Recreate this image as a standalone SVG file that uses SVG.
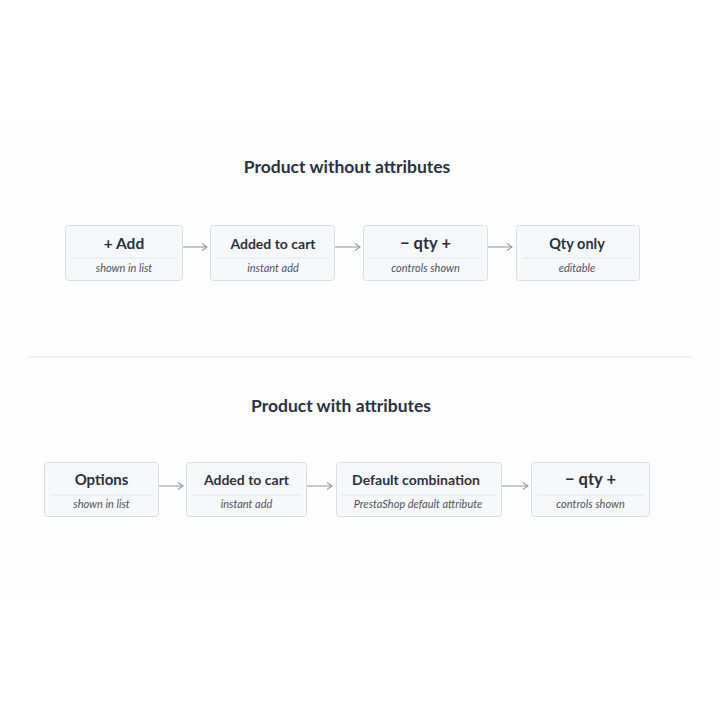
<svg xmlns="http://www.w3.org/2000/svg" width="720" height="720" viewBox="0 0 720 720">
<defs>
<style>
.box{fill:#f7f8f9;stroke:#dadde2;stroke-width:1}
.div{stroke:#e4e6e9;stroke-width:1}
.t{font-family:Lato,"Liberation Sans",sans-serif;font-weight:700;font-size:15px;fill:#2b3140;text-anchor:middle}
.s{font-family:Lato,"Liberation Sans",sans-serif;font-style:italic;font-size:11px;fill:#4f5561;text-anchor:middle}
.h{font-family:Lato,"Liberation Sans",sans-serif;font-weight:700;font-size:17.5px;fill:#2b3140;text-anchor:middle}
.c{stroke:#959ba4;stroke-width:1.1;fill:none}
</style>
<marker id="ah" markerWidth="10" markerHeight="10" refX="8" refY="5" orient="auto" markerUnits="userSpaceOnUse">
<path d="M3,1.5 L8,5 L3,8.5" fill="none" stroke="#959ba4" stroke-width="1.1"/>
</marker>
</defs>
<rect width="720" height="720" fill="#ffffff"/>
<rect x="0" y="121" width="720" height="477" fill="#fdfdfd"/>
<line x1="27" y1="357" x2="693" y2="357" stroke="#e8e9ec" stroke-width="1"/>
<text class="h" x="347" y="173">Product without attributes</text>
<text class="h" x="341" y="412">Product with attributes</text>
<g id="connectors">
<line class="c" x1="183" y1="247" x2="207" y2="247" marker-end="url(#ah)"/>
<line class="c" x1="335" y1="247" x2="360" y2="247" marker-end="url(#ah)"/>
<line class="c" x1="488" y1="247" x2="512" y2="247" marker-end="url(#ah)"/>
<line class="c" x1="159" y1="486" x2="183" y2="486" marker-end="url(#ah)"/>
<line class="c" x1="306" y1="486" x2="332" y2="486" marker-end="url(#ah)"/>
<line class="c" x1="502" y1="486" x2="528" y2="486" marker-end="url(#ah)"/>
</g>
<g id="n1">
<rect class="box" x="65.5" y="225.5" width="117" height="55" rx="3"/>
<line class="div" x1="71" y1="258" x2="177" y2="258"/>
<text class="t" x="124" y="249" style="font-size:15.5px">+ Add</text>
<text class="s" x="124" y="272">shown in list</text>
</g>
<g id="n2">
<rect class="box" x="210.5" y="225.5" width="124" height="55" rx="3"/>
<line class="div" x1="216" y1="258" x2="329" y2="258"/>
<text class="t" x="273" y="249" style="font-size:14px">Added to cart</text>
<text class="s" x="273" y="272">instant add</text>
</g>
<g id="n3">
<rect class="box" x="363.5" y="225.5" width="124" height="55" rx="3"/>
<line class="div" x1="369" y1="258" x2="482" y2="258"/>
<text class="t" x="425.5" y="249" style="font-size:16.5px">− qty +</text>
<text class="s" x="425.5" y="272">controls shown</text>
</g>
<g id="n4">
<rect class="box" x="516.5" y="225.5" width="123" height="55" rx="3"/>
<line class="div" x1="522" y1="258" x2="634" y2="258"/>
<text class="t" x="577" y="249" style="font-size:14.5px">Qty only</text>
<text class="s" x="577" y="272">editable</text>
</g>
<g id="m1">
<rect class="box" x="44.5" y="462.5" width="114" height="54" rx="3"/>
<line class="div" x1="50" y1="495" x2="153" y2="495"/>
<text class="t" x="101.5" y="485">Options</text>
<text class="s" x="101.5" y="508">shown in list</text>
</g>
<g id="m2">
<rect class="box" x="186.5" y="462.5" width="120" height="54" rx="3"/>
<line class="div" x1="192" y1="495" x2="301" y2="495"/>
<text class="t" x="246.5" y="485" style="font-size:14px">Added to cart</text>
<text class="s" x="246.5" y="508">instant add</text>
</g>
<g id="m3">
<rect class="box" x="336.5" y="462.5" width="165" height="54" rx="3"/>
<line class="div" x1="342" y1="495" x2="496" y2="495"/>
<text class="t" x="416" y="485" style="font-size:14px">Default combination</text>
<text class="s" x="418" y="508">PrestaShop default attribute</text>
</g>
<g id="m4">
<rect class="box" x="531.5" y="462.5" width="118" height="54" rx="3"/>
<line class="div" x1="537" y1="495" x2="644" y2="495"/>
<text class="t" x="590.5" y="485" style="font-size:16.5px">− qty +</text>
<text class="s" x="590.5" y="508">controls shown</text>
</g>
</svg>
